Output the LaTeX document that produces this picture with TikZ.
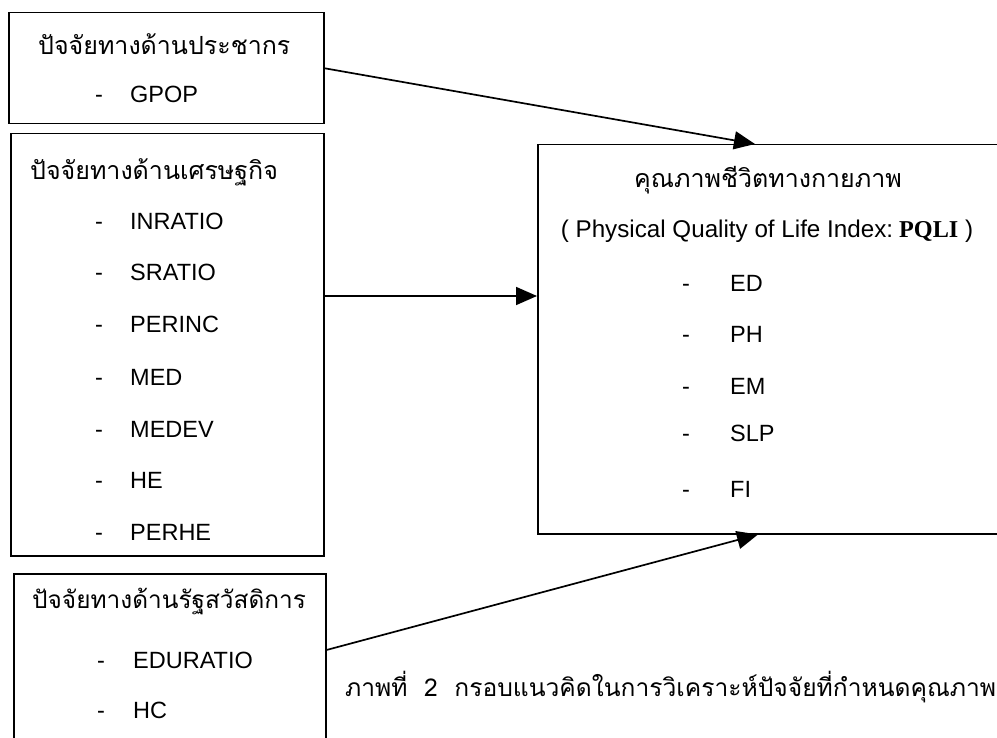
\documentclass[tikz,border=0pt]{standalone}
\usepackage{fontspec}
\setmainfont{Liberation Sans}
\newfontfamily\thaifont[Script=Thai]{Loma}
\newfontfamily\serifL{Liberation Serif}
\usetikzlibrary{arrows.meta,calc}
\begin{document}
\begin{tikzpicture}[x=1pt,y=-1pt,
  box/.style={draw,line width=1.5pt,anchor=north west,inner sep=0pt},
  th/.style={anchor=base west,inner sep=0pt,font=\thaifont\fontsize{25}{30}\selectfont},
  item/.style={anchor=base west,inner sep=0pt,font=\fontsize{23.5}{28}\selectfont},
  arr/.style={line width=1.7pt,-{Triangle[length=21pt,width=18pt]}}]
\path[use as bounding box,clip] (0,0) rectangle (997,738);

% boxes
\node[box,minimum width=315pt,minimum height=111pt] (b1) at (8,12) {};
\node[box,minimum width=313pt,minimum height=422pt] (b2) at (10,133) {};
\node[box,minimum width=312pt,minimum height=200pt] (b3) at (13,573) {};
\node[box,minimum width=480pt,minimum height=389pt] (r) at (537,144) {};

% box 1
\node[th] (t1) at (38,55) {ปัจจัยทางด้านประชากร};
\node[item] (d1a) at (95,103) {-};
\node[item] (i1a) at (130,103) {GPOP};

% box 2
\node[th] (t2) at (30,180) {ปัจจัยทางด้านเศรษฐกิจ};
\foreach \n/\lab/\yy in {a/INRATIO/230,b/SRATIO/281,c/PERINC/333,d/MED/385,e/MEDEV/437,f/HE/488,g/PERHE/540}{
  \node[item] (d2\n) at (95,\yy) {-};
  \node[item] (i2\n) at (130,\yy) {\lab};
}

% box 3
\node[th,font=\thaifont\fontsize{24.4}{30}\selectfont] (t3) at (32,608) {ปัจจัยทางด้านรัฐสวัสดิการ};
\node[item] (d3a) at (97,668) {-};
\node[item] (i3a) at (133,668) {EDURATIO};
\node[item] (d3b) at (97,718) {-};
\node[item] (i3b) at (133,718) {HC};

% right box
\node[th,anchor=base] (tr) at (768,188) {คุณภาพชีวิตทางกายภาพ};
\node[item,anchor=base,font=\fontsize{24.2}{28}\selectfont] (pq) at (767,238) {( Physical Quality of Life Index:{\serifL\bfseries\ PQLI} )};
\foreach \n/\lab/\yy in {a/ED/292,b/PH/343,c/EM/394,d/SLP/441,e/FI/497}{
  \node[item] (dr\n) at (682,\yy) {-};
  \node[item] (ir\n) at (730,\yy) {\lab};
}

% caption
\node[th,font=\thaifont\fontsize{24.6}{28}\selectfont] (cap) at (345,696) {ภาพที่\ \ 2\ \ กรอบแนวคิดในการวิเคราะห์ปัจจัยที่กำหนดคุณภาพ};

% connectors
\coordinate (e1) at ($(r.north west)+(218,0)$);
\coordinate (s2) at ($(b2.north east)+(0,163)$);
\coordinate (e2) at ($(r.north west)+(0,152)$);
\coordinate (s3) at ($(b3.north east)+(0,77)$);
\coordinate (e3) at ($(r.south west)+(221,0)$);
\draw[arr] (b1.east) -- (e1);
\draw[arr] (s2) -- (e2);
\draw[arr] (s3) -- (e3);
\end{tikzpicture}
\end{document}
